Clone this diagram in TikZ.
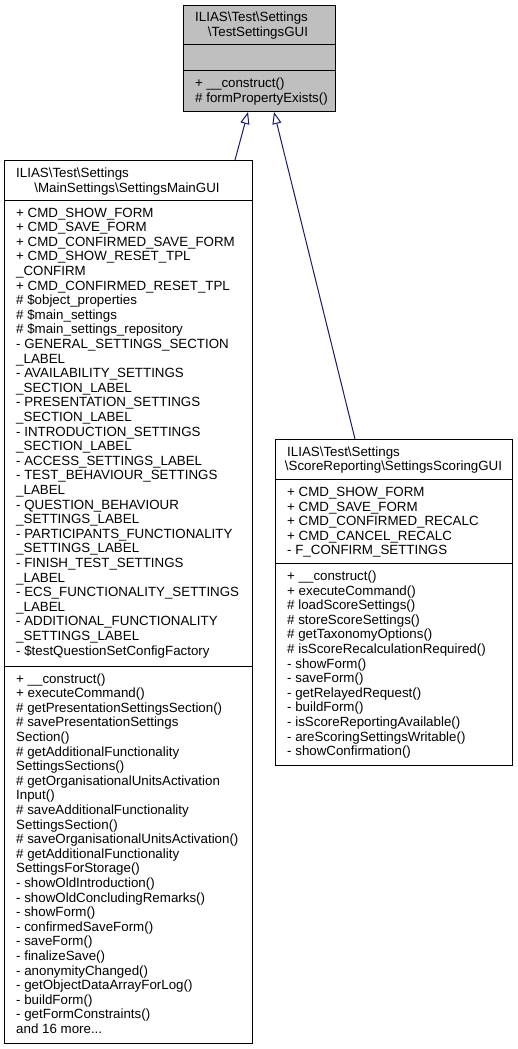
\documentclass[tikz,border=0pt]{standalone}
\usepackage{fontspec}
\setmainfont{Liberation Sans}
\usetikzlibrary{arrows.meta}
\definecolor{edgeblue}{HTML}{191970}
\definecolor{hilite}{HTML}{BFBFBF}
\tikzset{
  classbox/.style={draw=black, line width=1pt, inner sep=0pt, anchor=north west, fill=white},
  txt/.style={anchor=base west, inner sep=0pt, font=\fontsize{13.33}{14.6}\selectfont},
  ttl/.style={anchor=base, inner sep=0pt, font=\fontsize{13.33}{14.6}\selectfont},
  sepline/.style={draw=black, line width=1pt},
  inherit/.style={draw=edgeblue, line width=1pt, -{Triangle[open,length=12pt,width=9pt]}},
}
\newcommand\ListAt[4]{%
  \foreach \t [count=\i from 0] in {#4} {
    \node[txt] (#1\i) at (#2, {#3+\i*14.6}) {\t};
  }%
}
\begin{document}
\begin{tikzpicture}[x=1pt,y=-1pt]
\fill[white] (0,0) rectangle (517,1049);
\useasboundingbox (0,0) rectangle (517,1049);

% base class
\node[classbox, fill=hilite, minimum width=152pt, minimum height=106pt] (base) at (183,5) {};
\draw[sepline] (183,45) -- (335,45);
\draw[sepline] (183,70.5) -- (335,70.5);
\node[txt] (base-t1) at (195,22) {ILIAS\textbackslash Test\textbackslash Settings};
\node[ttl] (base-t2) at (258,36.6) {\textbackslash TestSettingsGUI};
\ListAt{base-m}{195}{87.5}{{+ \_\_construct()},{\# formPropertyExists()}}

% main settings class
\node[classbox, minimum width=248pt, minimum height=883pt] (main) at (4,160) {};
\draw[sepline] (4,200) -- (252,200);
\draw[sepline] (4,666) -- (252,666);
\node[txt] (main-t1) at (16,177.5) {ILIAS\textbackslash Test\textbackslash Settings};
\node[ttl] (main-t2) at (127,192.1) {\textbackslash MainSettings\textbackslash SettingsMainGUI};
\ListAt{main-a}{16}{217}{%
{+ CMD\_SHOW\_FORM},
{+ CMD\_SAVE\_FORM},
{+ CMD\_CONFIRMED\_SAVE\_FORM},
{+ CMD\_SHOW\_RESET\_TPL},
{\_CONFIRM},
{+ CMD\_CONFIRMED\_RESET\_TPL},
{\# \$object\_properties},
{\# \$main\_settings},
{\# \$main\_settings\_repository},
{- GENERAL\_SETTINGS\_SECTION},
{\_LABEL},
{- AVAILABILITY\_SETTINGS},
{\_SECTION\_LABEL},
{- PRESENTATION\_SETTINGS},
{\_SECTION\_LABEL},
{- INTRODUCTION\_SETTINGS},
{\_SECTION\_LABEL},
{- ACCESS\_SETTINGS\_LABEL},
{- TEST\_BEHAVIOUR\_SETTINGS},
{\_LABEL},
{- QUESTION\_BEHAVIOUR},
{\_SETTINGS\_LABEL},
{- PARTICIPANTS\_FUNCTIONALITY},
{\_SETTINGS\_LABEL},
{- FINISH\_TEST\_SETTINGS},
{\_LABEL},
{- ECS\_FUNCTIONALITY\_SETTINGS},
{\_LABEL},
{- ADDITIONAL\_FUNCTIONALITY},
{\_SETTINGS\_LABEL},
{- \$testQuestionSetConfigFactory}}
\ListAt{main-m}{16}{683}{%
{+ \_\_construct()},
{+ executeCommand()},
{\# getPresentationSettingsSection()},
{\# savePresentationSettings},
{Section()},
{\# getAdditionalFunctionality},
{SettingsSections()},
{\# getOrganisationalUnitsActivation},
{Input()},
{\# saveAdditionalFunctionality},
{SettingsSection()},
{\# saveOrganisationalUnitsActivation()},
{\# getAdditionalFunctionality},
{SettingsForStorage()},
{- showOldIntroduction()},
{- showOldConcludingRemarks()},
{- showForm()},
{- confirmedSaveForm()},
{- saveForm()},
{- finalizeSave()},
{- anonymityChanged()},
{- getObjectDataArrayForLog()},
{- buildForm()},
{- getFormConstraints()},
{and 16 more.{}.{}.}}

% scoring class
\node[classbox, minimum width=237pt, minimum height=326pt] (score) at (275,439) {};
\draw[sepline] (275,479.5) -- (512,479.5);
\draw[sepline] (275,563.5) -- (512,563.5);
\node[txt] (score-t1) at (287,456) {ILIAS\textbackslash Test\textbackslash Settings};
\node[ttl] (score-t2) at (393.5,470.6) {\textbackslash ScoreReporting\textbackslash SettingsScoringGUI};
\ListAt{score-a}{287}{496.5}{%
{+ CMD\_SHOW\_FORM},
{+ CMD\_SAVE\_FORM},
{+ CMD\_CONFIRMED\_RECALC},
{+ CMD\_CANCEL\_RECALC},
{- F\_CONFIRM\_SETTINGS}}
\ListAt{score-m}{287}{580.5}{%
{+ \_\_construct()},
{+ executeCommand()},
{\# loadScoreSettings()},
{\# storeScoreSettings()},
{\# getTaxonomyOptions()},
{\# isScoreRecalculationRequired()},
{- showForm()},
{- saveForm()},
{- getRelayedRequest()},
{- buildForm()},
{- isScoreReportingAvailable()},
{- areScoringSettingsWritable()},
{- showConfirmation()}}

% inheritance
\draw[inherit] ([xshift=231pt]main.north west) -- ([xshift=65pt]base.south west);
\draw[inherit] ([xshift=80pt]score.north west) -- ([xshift=91pt]base.south west);
\end{tikzpicture}
\end{document}
